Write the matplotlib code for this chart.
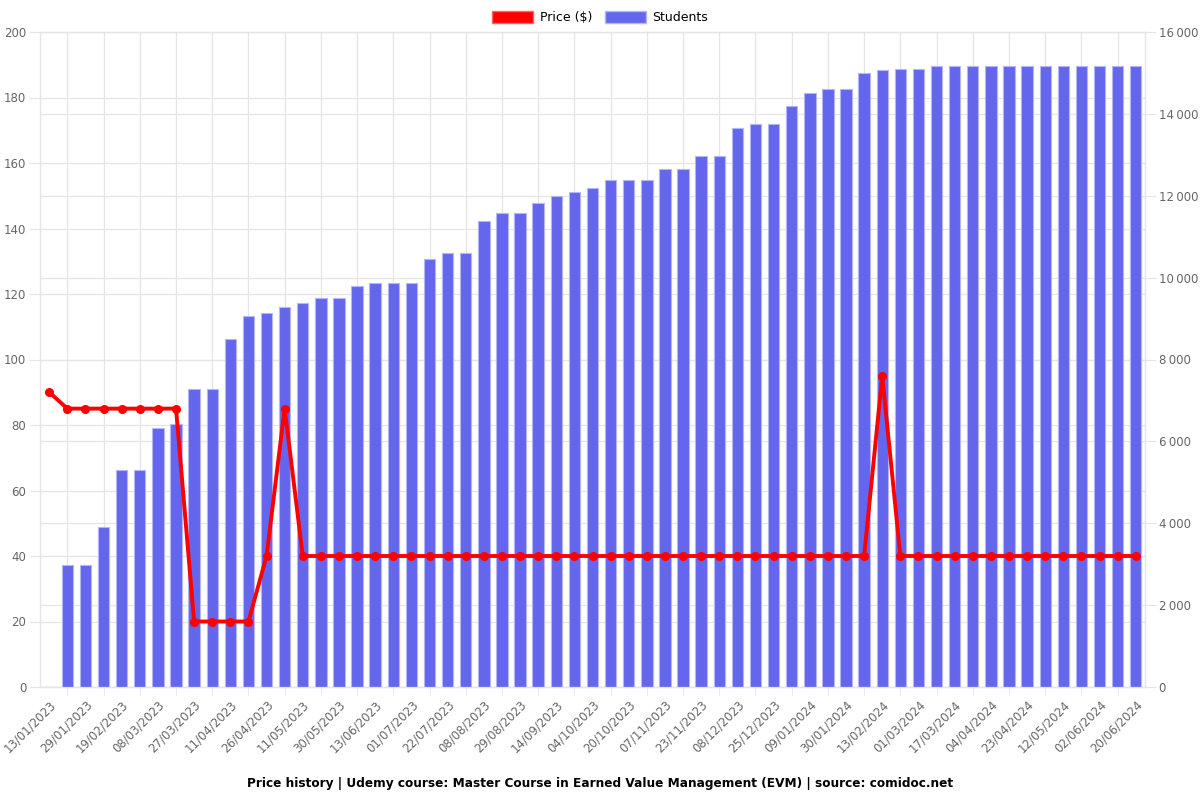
"""
Price history chart for a Udemy course: price line over student-count bars.
"""

import matplotlib
matplotlib.use("Agg")
import matplotlib.pyplot as plt
from matplotlib.patches import Patch
from matplotlib.ticker import FuncFormatter, MultipleLocator

# --- Data ---
dates = [
    "13/01/2023", "21/01/2023", "29/01/2023", "08/02/2023", "19/02/2023", "28/02/2023",
    "08/03/2023", "17/03/2023", "27/03/2023", "04/04/2023", "11/04/2023", "18/04/2023",
    "26/04/2023", "03/05/2023", "11/05/2023", "20/05/2023", "30/05/2023", "06/06/2023",
    "13/06/2023", "22/06/2023", "01/07/2023", "12/07/2023", "22/07/2023", "31/07/2023",
    "08/08/2023", "19/08/2023", "29/08/2023", "06/09/2023", "14/09/2023", "25/09/2023",
    "04/10/2023", "12/10/2023", "20/10/2023", "29/10/2023", "07/11/2023", "15/11/2023",
    "23/11/2023", "01/12/2023", "08/12/2023", "16/12/2023", "25/12/2023", "02/01/2024",
    "09/01/2024", "20/01/2024", "30/01/2024", "06/02/2024", "13/02/2024", "22/02/2024",
    "01/03/2024", "09/03/2024", "17/03/2024", "26/03/2024", "04/04/2024", "14/04/2024",
    "23/04/2024", "02/05/2024", "12/05/2024", "22/05/2024", "02/06/2024", "11/06/2024",
    "20/06/2024",
]

price = [90] + [85] * 7 + [20] * 4 + [40, 85] + [40] * 32 + [95] + [40] * 14

students = [
    0, 2976, 2976, 3906, 5295, 5295, 6319, 6433, 7269, 7269,
    8512, 9065, 9128, 9272, 9378, 9514, 9514, 9786, 9859, 9859,
    9859, 10465, 10590, 10590, 11394, 11572, 11572, 11812, 12000, 12094,
    12188, 12376, 12386, 12386, 12658, 12658, 12982, 12982, 13661, 13744,
    13744, 14193, 14517, 14611, 14611, 14987, 15070, 15091, 15091, 15175,
    15175, 15175, 15175, 15175, 15175, 15175, 15175, 15175, 15175, 15175,
    15175,
]

x = list(range(len(dates)))
grid_col = "#e5e5e5"
tick_col = "#666666"

fig = plt.figure(figsize=(12, 8), dpi=100)
ax = fig.add_axes([0.0335, 0.14125, 0.9205, 0.81875])
ax_bar = ax.twinx()
ax_line = ax.twinx()

# left axis: price grid + labels
ax.set_ylim(0, 200)
ax.yaxis.set_major_locator(MultipleLocator(20))
ax.grid(axis="y", color=grid_col, linewidth=0.9)
ax.set_axisbelow(True)

# bars on right axis
ax_bar.bar(x, students, width=0.63, color="#6466ee", edgecolor="#b4b6f6", linewidth=0.8, zorder=2)
ax_bar.set_ylim(0, 16000)
ax_bar.yaxis.set_major_locator(MultipleLocator(2000))
ax_bar.yaxis.set_major_formatter(FuncFormatter(lambda v, p: f"{int(v):,}".replace(",", "\u2009")))
ax_bar.grid(axis="y", color=grid_col, linewidth=0.9, zorder=0)
ax_bar.set_axisbelow(True)

# price line on top
ax_line.plot(x, price, color="#ff0000", linewidth=2.8, marker="o", markersize=5.5, zorder=5)
ax_line.set_ylim(0, 200)
ax_line.set_yticks([])

for a in (ax, ax_bar, ax_line):
    a.set_xlim(-0.5, len(dates) - 0.5)
    for s in a.spines.values():
        s.set_color(grid_col)
ax.spines["bottom"].set_color("#cccccc")

# x ticks: labels on every other date, grid/ticks on the ones in between
ax.set_xticks(x[::2])
ax.set_xticklabels(dates[::2], rotation=45, ha="right", rotation_mode="anchor")
ax.set_xticks(x[1::2], minor=True)
ax.grid(axis="x", which="minor", color=grid_col, linewidth=0.9)
ax.tick_params(axis="x", which="major", length=0, pad=8, labelsize=8.5, labelcolor=tick_col)
ax.tick_params(axis="x", which="minor", length=6, color=grid_col)
ax.tick_params(axis="y", length=8, color=grid_col, labelsize=8.5, labelcolor=tick_col, pad=2)
ax_bar.tick_params(axis="y", length=8, color=grid_col, labelsize=8.5, labelcolor=tick_col, pad=2)

handles = [Patch(facecolor="#ff0000", edgecolor="#ff6666", label="Price ($)"),
           Patch(facecolor="#6466ee", edgecolor="#b4b6f6", label="Students")]
fig.legend(handles=handles, loc="upper center", bbox_to_anchor=(0.5, 1.0), ncol=2,
           frameon=False, fontsize=9, handlelength=3.3, handleheight=1.0,
           columnspacing=1.0, handletextpad=0.5)

fig.text(0.5, 0.021, "Price history | Udemy course: Master Course in Earned Value Management (EVM) | source: comidoc.net",
         ha="center", va="center", fontsize=8.7, fontweight="bold")

fig.savefig("out.png", dpi=100)
